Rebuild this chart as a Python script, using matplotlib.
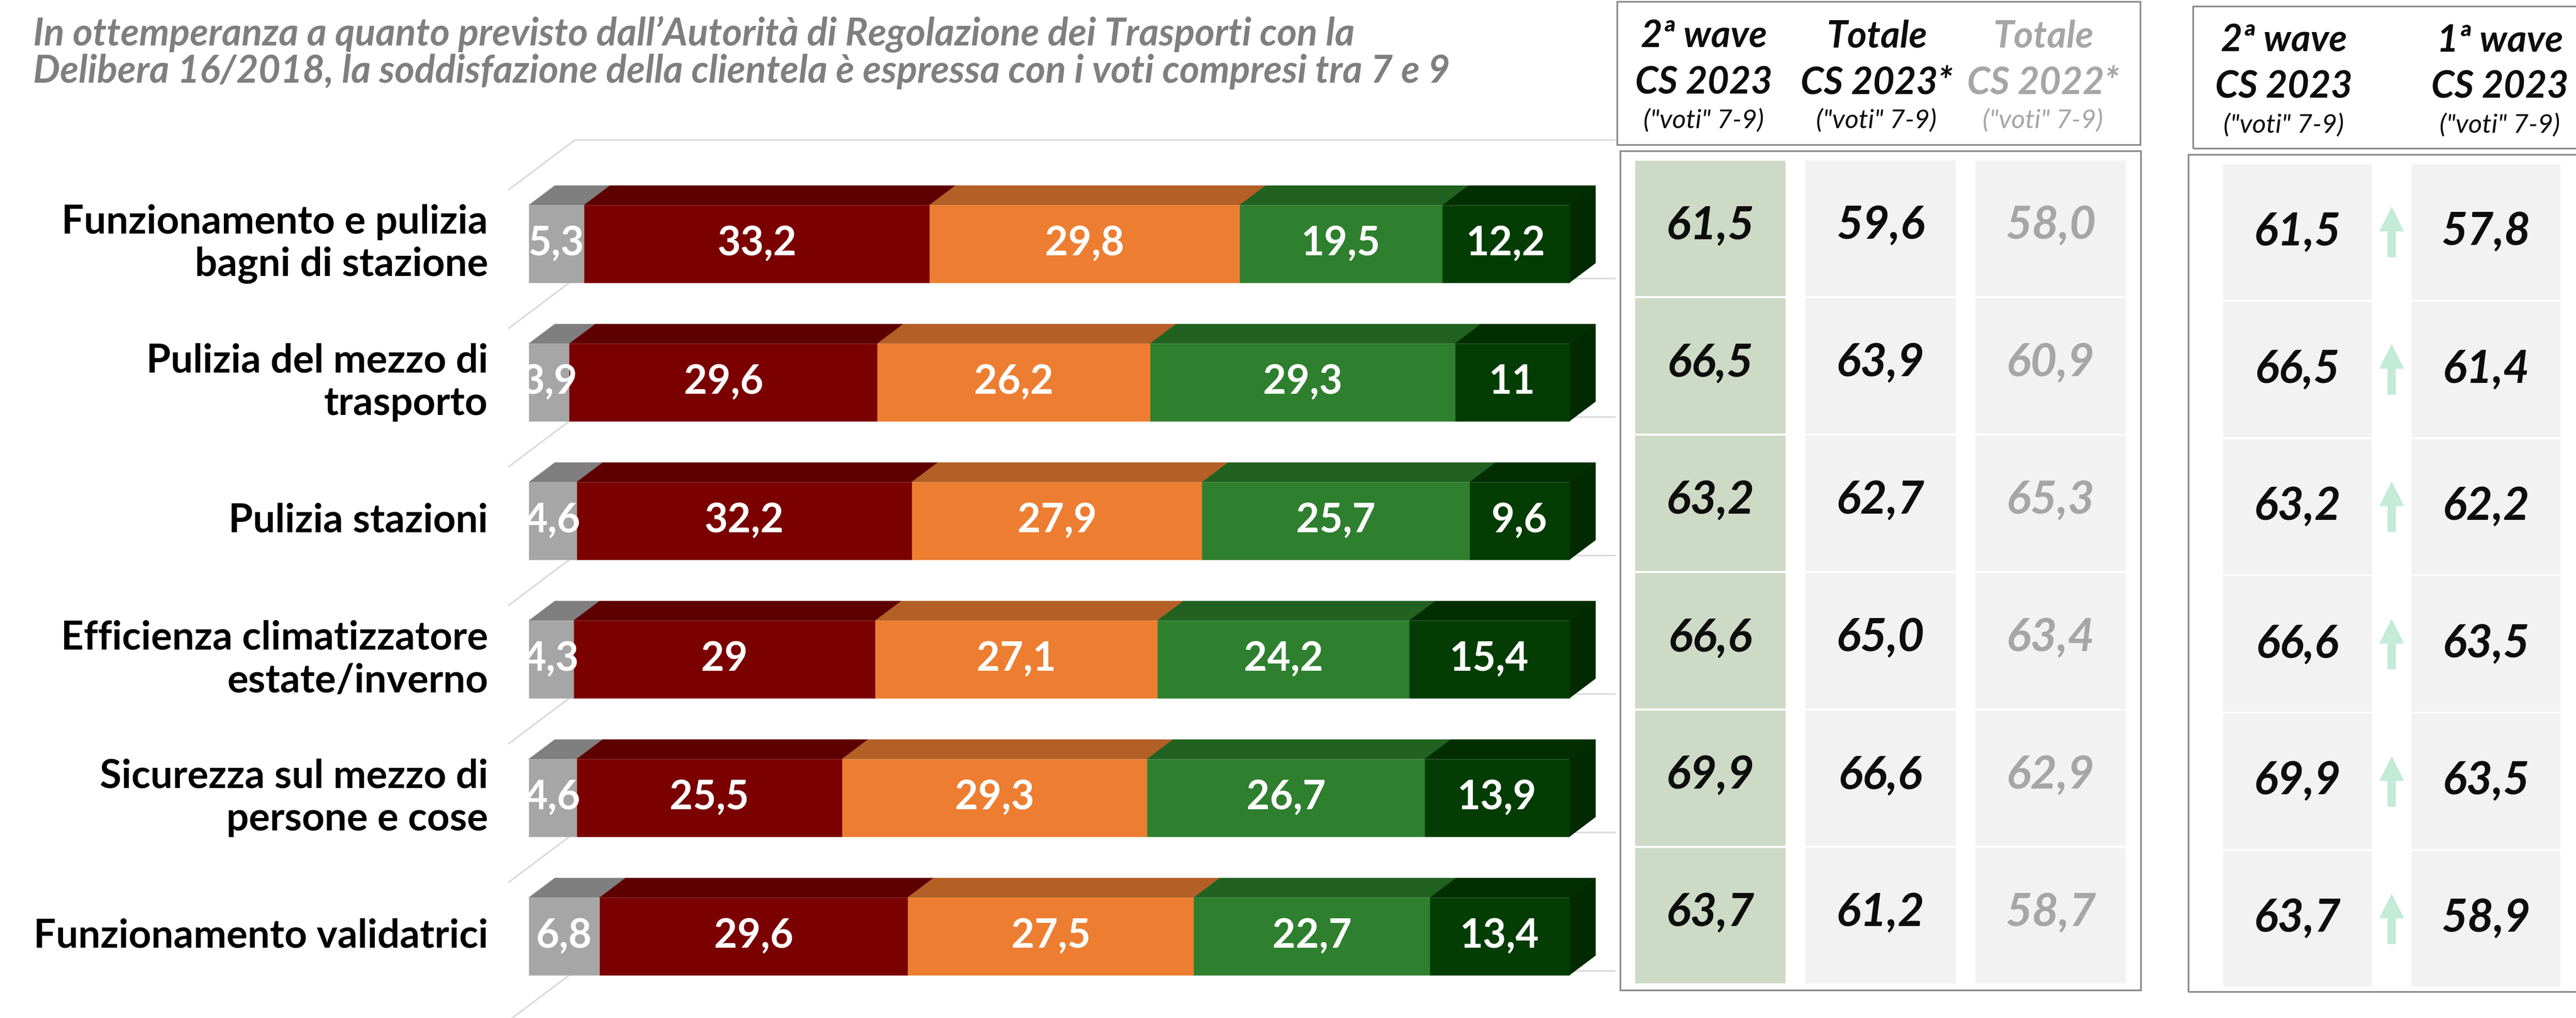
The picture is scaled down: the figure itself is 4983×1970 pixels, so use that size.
import matplotlib
matplotlib.use("Agg")
import matplotlib.pyplot as plt
from matplotlib.patches import Rectangle, Polygon
import numpy as np

plt.rcParams['font.family'] = ['Lato', 'DejaVu Sans']

# ---------------- data ----------------
title_lines = [
    "In ottemperanza a quanto previsto dall\u2019Autorit\u00e0 di Regolazione dei Trasporti con la",
    "Delibera 16/2018, la soddisfazione della clientela \u00e8 espressa con i voti compresi tra 7 e 9",
]
categories = [
    "Funzionamento e pulizia\nbagni di stazione",
    "Pulizia del mezzo di\ntrasporto",
    "Pulizia stazioni",
    "Efficienza climatizzatore\nestate/inverno",
    "Sicurezza sul mezzo di\npersone e cose",
    "Funzionamento validatrici",
]
seg_grey = [5.3, 3.9, 4.6, 4.3, 4.6, 6.8]
seg_darkred = [33.2, 29.6, 32.2, 29.0, 25.5, 29.6]
seg_orange = [29.8, 26.2, 27.9, 27.1, 29.3, 27.5]
seg_green = [19.5, 29.3, 25.7, 24.2, 26.7, 22.7]
seg_darkgreen = [12.2, 11.0, 9.6, 15.4, 13.9, 13.4]

wave2_2023 = [61.5, 66.5, 63.2, 66.6, 69.9, 63.7]
totale_2023 = [59.6, 63.9, 62.7, 65.0, 66.6, 61.2]
totale_2022 = [58.0, 60.9, 65.3, 63.4, 62.9, 58.7]
wave1_2023 = [57.8, 61.4, 62.2, 63.5, 63.5, 58.9]

table1_headers = [("2\u00aa wave", "CS 2023", "(\"voti\" 7-9)"),
                  ("Totale", "CS 2023*", "(\"voti\" 7-9)"),
                  ("Totale", "CS 2022*", "(\"voti\" 7-9)")]
table2_headers = [("2\u00aa wave", "CS 2023", "(\"voti\" 7-9)"),
                  ("1\u00aa wave", "CS 2023", "(\"voti\" 7-9)")]

# ---------------- styles ----------------
seg_styles = [  # front, top, side
    ("#A6A6A6", "#7F7F7F", "#6E6E6E"),
    ("#7B0000", "#5E0000", "#4A0000"),
    ("#ED7D31", "#B45F25", "#9A501F"),
    ("#2E7F2E", "#216221", "#1A4F1A"),
    ("#033D03", "#022E01", "#012A01"),
]
BLACK = "#0D0D0D"
GREYTXT = "#A6A6A6"

W, H = 4983, 1970
fig = plt.figure(figsize=(W / 100, H / 100), dpi=100)


def fr(x, y):
    return x / W, 1 - y / H


def fmt(v, always_dec=False):
    if always_dec:
        return f"{v:.1f}".replace(".", ",")
    return f"{v:g}".replace(".", ",")


# ---------------- title ----------------
for line, yb in zip(title_lines, [88, 160]):
    fig.text(*fr(64, yb), line, fontsize=53, fontweight="bold", fontstyle="italic",
             color="#7F7F7F", va="baseline", ha="left")

# ---------------- 3D stacked bar chart ----------------
ax = fig.add_axes([983 / W, 1 - 1976 / H, 2013 / W, 1608 / H])
ax.set_xlim(0, 100)
ax.set_ylim(len(categories) - 0.5, -0.5)
ax.axis("off")

DX = 129 / 20.13
DY = -97 / 268
T0, T1 = 0.31, 0.70
HH = 0.28


def P(v, y, t):
    return (v + t * DX, y + t * DY)


for b in np.arange(len(categories) + 1) - 0.5:
    ax.plot([0, DX, 100 + DX], [b, b + DY, b + DY], color="#D9D9D9", lw=2.2,
            clip_on=False, zorder=1, solid_capstyle="butt")

series = [seg_grey, seg_darkred, seg_orange, seg_green, seg_darkgreen]
for k, cat in enumerate(categories):
    left = 0.0
    for j, s in enumerate(series):
        v = s[k]
        x0, x1 = left, left + v
        fc, tc, sc = seg_styles[j]
        top = [P(x0, k - HH, T0), P(x1, k - HH, T0), P(x1, k - HH, T1), P(x0, k - HH, T1)]
        front = [P(x0, k - HH, T0), P(x1, k - HH, T0), P(x1, k + HH, T0), P(x0, k + HH, T0)]
        ax.add_patch(Polygon(top, closed=True, fc=tc, ec=tc, lw=0.4, zorder=3, clip_on=False))
        ax.add_patch(Polygon(front, closed=True, fc=fc, ec=fc, lw=0.4, zorder=4, clip_on=False))
        if j == len(series) - 1:
            side = [P(x1, k - HH, T0), P(x1, k - HH, T1), P(x1, k + HH, T1), P(x1, k + HH, T0)]
            ax.add_patch(Polygon(side, closed=True, fc=sc, ec=sc, lw=0.4, zorder=3, clip_on=False))
        cx, cy = P((x0 + x1) / 2, k, T0)
        ax.text(cx, cy, fmt(v), ha="center", va="center", color="white",
                fontsize=56, fontweight="bold", zorder=6, clip_on=False)
        left = x1
    lx, ly = P(0, k, T0)
    ax.text(-39 / 20.13, ly, cat, ha="right", va="center", fontsize=55,
            fontweight="bold", color="black", linespacing=1.22, clip_on=False)

# ---------------- boxes ----------------
def box(x0, y0, x1, y1):
    fig.add_artist(Rectangle(fr(x0, y1), (x1 - x0) / W, (y1 - y0) / H,
                             transform=fig.transFigure, fill=False,
                             ec="#8C8C8C", lw=2.4, zorder=0))


box(3128, 3, 4140, 280)
box(3134, 292, 4141, 1916)
box(4242, 12, 5050, 287)
box(4233, 299, 5050, 1919)

# ---------------- table 1 ----------------
t1 = fig.add_axes([3144 / W, 1 - 1905 / H, 987 / W, 1596 / H])
t1.set_xlim(-0.5, 2.5)
t1.set_ylim(len(categories) - 0.5, -0.5)
t1.axis("off")
t1_cols = [wave2_2023, totale_2023, totale_2022]
t1_cell = ["#CDDAC5", "#F2F2F2", "#F2F2F2"]
t1_txt = [BLACK, BLACK, GREYTXT]
for c, col in enumerate(t1_cols):
    for r, v in enumerate(col):
        t1.add_patch(Rectangle((c - 0.4425, r - 0.4925), 0.885, 0.985,
                               fc=t1_cell[c], ec="none"))
        t1.text(c, r - 0.02, fmt(v, True), ha="center", va="center", fontsize=64,
                fontweight="bold", fontstyle="italic", color=t1_txt[c])

# ---------------- table 2 ----------------
t2 = fig.add_axes([4261.5 / W, 1 - 1911 / H, 730 / W, 1595 / H])
t2.set_xlim(-0.5, 1.5)
t2.set_ylim(len(categories) - 0.5, -0.5)
t2.axis("off")
t2_cols = [wave2_2023, wave1_2023]
for c, col in enumerate(t2_cols):
    for r, v in enumerate(col):
        t2.add_patch(Rectangle((c - 0.395, r - 0.4925), 0.79, 0.985,
                               fc="#F2F2F2", ec="none"))
        t2.text(c, r, fmt(v, True), ha="center", va="center", fontsize=63,
                fontweight="bold", fontstyle="italic", color=BLACK)
# trend arrows
L, HL, HW, SW = 0.368, 0.18, 0.0658, 0.022
for r, (a, b) in enumerate(zip(wave2_2023, wave1_2023)):
    d = -1 if a > b else 1  # -1 => up (inverted axis)
    tip = r + d * L / 2
    base = r - d * L / 2
    hb = tip - d * HL
    poly = [(0.5, tip), (0.5 + HW, hb), (0.5 + SW, hb), (0.5 + SW, base),
            (0.5 - SW, base), (0.5 - SW, hb), (0.5 - HW, hb)]
    t2.add_patch(Polygon(poly, closed=True, fc="#C3EBD7", ec="none"))

# ---------------- headers ----------------
def header(cx, lines, color, bases):
    (l1, l2, l3) = lines
    fig.text(*fr(cx, bases[0]), l1, ha="center", va="baseline", fontsize=52,
             fontweight="bold", fontstyle="italic", color=color)
    fig.text(*fr(cx, bases[1]), l2, ha="center", va="baseline", fontsize=52,
             fontweight="bold", fontstyle="italic", color=color)
    fig.text(*fr(cx, bases[2]), l3, ha="center", va="baseline", fontsize=37,
             fontstyle="italic", color=color)


for cx, hd, colr in zip([3296, 3630, 3952], table1_headers, [BLACK, BLACK, GREYTXT]):
    header(cx, hd, colr, [92, 182, 248])
for cx, hd in zip([4418, 4836], table2_headers):
    header(cx, hd, BLACK, [100, 189, 257])

fig.savefig("out.png", dpi=100)
